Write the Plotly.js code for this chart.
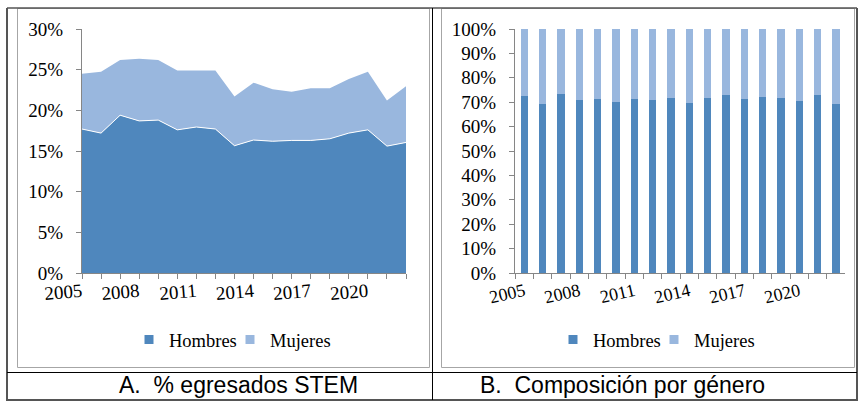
<!DOCTYPE html>
<html>
<head>
<meta charset="utf-8">
<script src="https://cdn.plot.ly/plotly-3.0.1.min.js"></script>
<style>html,body{margin:0;padding:0;background:#fff;}#chart{width:866px;height:408px;}</style>
</head>
<body>
<div id="chart"></div>
<script>
// ---- data ----
const years = [2005, 2006, 2007, 2008, 2009, 2010, 2011, 2012, 2013, 2014, 2015, 2016, 2017, 2018, 2019, 2020, 2021, 2022];
const shownYearLabels = ['2005', '2008', '2011', '2014', '2017', '2020'];
// A. % egresados STEM (stacked area, in %)
const hombresPct = [17.7, 17.2, 19.4, 18.7, 18.8, 17.6, 17.95, 17.7, 15.65, 16.35, 16.2, 16.3, 16.3, 16.5, 17.2, 17.6, 15.6, 16.05];
const mujeresPct = [6.8, 7.55, 6.8, 7.65, 7.4, 7.3, 6.95, 7.2, 6.05, 7.05, 6.4, 6.0, 6.4, 6.2, 6.65, 7.15, 5.6, 6.9];
// B. Composición por género (100% stacked bars, in %)
const hombresShare = [72.4, 69.4, 73.5, 71.0, 71.4, 70.2, 71.4, 71.0, 71.6, 69.8, 71.6, 73.1, 71.4, 72.3, 71.9, 70.6, 73.1, 69.4];
const mujeresShare = [27.6, 30.6, 26.5, 29.0, 28.6, 29.8, 28.6, 29.0, 28.4, 30.2, 28.4, 26.9, 28.6, 27.7, 28.1, 29.4, 26.9, 30.6];
const seriesNames = ['Hombres', 'Mujeres'];
const captions = ['A.  % egresados STEM', 'B.  Composición por género'];

// ---- styling ----
const W = 866, H = 408;
const cH = '#4F87BD', cM = '#99B7DE';
const axisGrey = '#868686';
const px = x => x / W;
const py = y => 1 - y / H;

const yearStr = years.map(String);
const tickText = yearStr.map(s => shownYearLabels.includes(s) ? s : '');
const serif = 'Liberation Serif, Times New Roman, serif';

function legendKey(name, color, xa, ya, lg) {
  return {type: 'scatter', mode: 'markers', x: [null], y: [null], name: name, xaxis: xa, yaxis: ya, legend: lg,
          marker: {symbol: 'square', size: 9, color: color}, showlegend: true};
}

const traces = [
  {type: 'scatter', x: years, y: hombresPct, name: seriesNames[0], stackgroup: 'a', mode: 'lines',
   line: {color: '#ffffff', width: 1}, fillcolor: cH, xaxis: 'x', yaxis: 'y', showlegend: false},
  {type: 'scatter', x: years, y: mujeresPct, name: seriesNames[1], stackgroup: 'a', mode: 'lines',
   line: {color: cM, width: 0}, fillcolor: cM, xaxis: 'x', yaxis: 'y', showlegend: false},
  {type: 'bar', x: yearStr, y: hombresShare, name: seriesNames[0], marker: {color: cH},
   xaxis: 'x2', yaxis: 'y2', showlegend: false},
  {type: 'bar', x: yearStr, y: mujeresShare, name: seriesNames[1], marker: {color: cM},
   xaxis: 'x2', yaxis: 'y2', showlegend: false},
  legendKey(seriesNames[0], cH, 'x', 'y', 'legend'),
  legendKey(seriesNames[1], cM, 'x', 'y', 'legend'),
  legendKey(seriesNames[0], cH, 'x2', 'y2', 'legend2'),
  legendKey(seriesNames[1], cM, 'x2', 'y2', 'legend2')
];

const tickFont = {family: serif, size: 19, color: '#000'};
const legendFont = {family: serif, size: 18.5, color: '#000'};
const yDomain = [py(273), py(29)];

const shapes = [];
function line(x0, y0, x1, y1, color, width) {
  shapes.push({type: 'line', xref: 'paper', yref: 'paper', x0: px(x0), y0: py(y0), x1: px(x1), y1: py(y1),
               line: {color: color, width: width}});
}
function rect(x0, y0, x1, y1, color, width) {
  shapes.push({type: 'rect', xref: 'paper', yref: 'paper', x0: px(x0), y0: py(y0), x1: px(x1), y1: py(y1),
               line: {color: color, width: width}, fillcolor: 'rgba(0,0,0,0)'});
}
// chart frames
rect(17.5, 8.5, 429.5, 367.5, '#A6A6A6', 1);
rect(441.5, 8.5, 854.5, 367.5, '#A6A6A6', 1);
// table lines
line(7, 8, 857, 8, '#555555', 1.5);
line(7, 8, 7, 400, '#555555', 2);
line(857, 8, 857, 400, '#555555', 2);
line(6, 400, 858, 400, '#555555', 2);
line(432.5, 8, 432.5, 400, '#000000', 1);
line(7, 372.5, 857, 372.5, '#000000', 1);

const layout = {
  width: W, height: H,
  margin: {l: 0, r: 0, t: 0, b: 0},
  paper_bgcolor: '#ffffff', plot_bgcolor: 'rgba(0,0,0,0)',
  font: tickFont,
  showlegend: true,
  hovermode: false,
  barmode: 'stack', bargap: 0.6,
  xaxis: {domain: [px(82), px(406)], range: [2005, 2022], tickmode: 'array', tickvals: years, ticktext: tickText,
          showline: true, linecolor: axisGrey, ticks: 'outside', ticklen: 5, tickcolor: axisGrey,
          showgrid: false, zeroline: false, tickangle: -5, tickfont: tickFont, ticklabelstandoff: -5,
          anchor: 'y', fixedrange: true},
  yaxis: {domain: yDomain, range: [0, 30], dtick: 5, ticksuffix: '%', showline: true, linecolor: axisGrey,
          ticks: 'outside', ticklen: 5, tickcolor: axisGrey, showgrid: false, zeroline: false,
          ticklabelstandoff: 9, tickfont: tickFont, anchor: 'x', fixedrange: true},
  xaxis2: {domain: [px(515), px(845)], type: 'category', tickmode: 'array', tickvals: yearStr, ticktext: tickText,
           tickson: 'boundaries', showline: true, linecolor: axisGrey, ticks: 'outside', ticklen: 5, tickcolor: axisGrey,
           showgrid: false, zeroline: false, tickangle: -13, tickfont: Object.assign({}, tickFont, {size: 18}),
           anchor: 'y2', fixedrange: true},
  yaxis2: {domain: yDomain, range: [0, 100], dtick: 10, ticksuffix: '%', showline: true, linecolor: axisGrey,
           ticks: 'outside', ticklen: 5, tickcolor: axisGrey, showgrid: false, zeroline: false,
           ticklabelstandoff: 9, tickfont: tickFont, anchor: 'x2', fixedrange: true},
  legend: {orientation: 'h', x: px(129), xanchor: 'left', y: py(340), yanchor: 'middle',
           bgcolor: 'rgba(0,0,0,0)', font: legendFont, itemwidth: 30, traceorder: 'normal',
           entrywidth: 56, entrywidthmode: 'pixels'},
  legend2: {orientation: 'h', x: px(553), xanchor: 'left', y: py(340), yanchor: 'middle',
            bgcolor: 'rgba(0,0,0,0)', font: legendFont, itemwidth: 30, traceorder: 'normal',
            entrywidth: 56, entrywidthmode: 'pixels'},
  shapes: shapes,
  annotations: [
    {xref: 'paper', yref: 'paper', x: px(117), y: py(385), xanchor: 'left', yanchor: 'middle', showarrow: false,
     text: captions[0], font: {family: 'Liberation Sans, Arial, sans-serif', size: 23, color: '#000'}},
    {xref: 'paper', yref: 'paper', x: px(478), y: py(385), xanchor: 'left', yanchor: 'middle', showarrow: false,
     text: captions[1], font: {family: 'Liberation Sans, Arial, sans-serif', size: 23, color: '#000'}}
  ]
};

Plotly.newPlot('chart', traces, layout, {staticPlot: true, displayModeBar: false});
</script>
</body>
</html>
